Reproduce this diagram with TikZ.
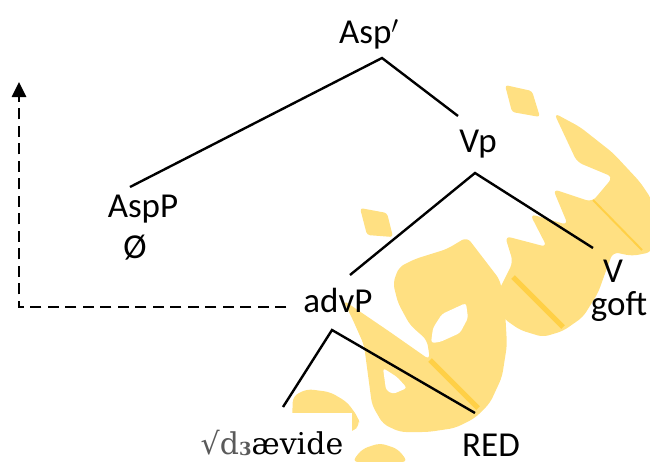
\documentclass[tikz,border=0pt]{standalone}
\usepackage{fontspec}
\setmainfont{Carlito}
\newfontfamily\rootfont{DejaVu Serif}
\usetikzlibrary{arrows.meta}
\definecolor{wmark}{RGB}{255,224,130}
\definecolor{wstripe}{RGB}{255,208,70}
\definecolor{rootgray}{RGB}{90,90,90}
\tikzset{
  lbl/.style={inner sep=0pt, anchor=base, font=\fontsize{35}{40}\selectfont},
  branch/.style={line width=2.4pt},
  movearrow/.style={line width=2.6pt, dash pattern=on 11pt off 6.5pt,
    -{Triangle[length=15pt,width=14pt]}},
  blob/.style={fill=wmark, rounded corners=6pt},
  hole/.style={fill=white, rounded corners=3pt},
  stripe/.style={draw=wstripe},
}
\begin{document}
\begin{tikzpicture}[x=1pt,y=-1pt]
\useasboundingbox (0,0) rectangle (650,461);

% background watermark
\fill[blob] (554,113) -- (580,127) -- (613,153) -- (640,182) -- (652,200) -- (652,252)
  -- (632,256) -- (613,252) -- (607,268) -- (598,293) -- (583,317) -- (563,331)
  -- (543,337) -- (520,330) -- (503,318) -- (498,292) -- (513,262) -- (505,236)
  -- (547,247) -- (530,214) -- (568,225) -- (553,189) -- (592,202) -- (613,177)
  -- (577,162) -- cycle;
\fill[blob] (467,237) -- (500,280) -- (505,310) -- (507,345) -- (502,377) -- (490,403)
  -- (475,418) -- (455,428) -- (428,432) -- (400,432) -- (383,424) -- (372,405)
  -- (368,375) -- (364,345) -- (352,318) -- (343,300) -- (390,332) -- (430,360)
  -- (427,340) -- (410,325) -- (398,303) -- (393,283) -- (399,267) -- (415,259)
  -- (447,249) -- cycle;
\fill[blob] (293,396) -- (307,389) -- (330,392) -- (347,402) -- (358,417) -- (360,425)
  -- (352,432) -- (300,440) -- (292,420) -- cycle;
\fill[blob] (352,462) -- (362,449) -- (380,443) -- (398,449) -- (408,462) -- cycle;
\fill[blob, rounded corners=3pt] (360,208) -- (387,213) -- (393,237) -- (367,235) -- cycle;
\fill[blob, rounded corners=3pt] (505,85) -- (532,91) -- (540,117) -- (512,112) -- cycle;
\fill[hole] (466,303) -- (468,318) -- (460,333) -- (440,342) -- (431,343) -- (433,328)
  -- (442,314) -- cycle;
\fill[hole] (383,368) -- (386,390) -- (393,394) -- (407,388) -- (397,377) -- cycle;
\draw[stripe, line width=2pt] (593,200) -- (642,250);
\draw[stripe, line width=5pt] (513,277) -- (563,327);
\draw[stripe, line width=5pt] (430,360) -- (478,408);
\fill[white] (195,413) rectangle (352,461);

% labels
\node[lbl] (aspbar) at (369,43) {Asp$'$};
\node[lbl] (aspp) at (143,217) {AspP};
\node[lbl] (null) at (135,258) {Ø};
\node[lbl] (vp) at (478,152) {Vp};
\node[lbl] (advp) at (338,312) {advP};
\node[lbl] (v) at (613,282) {V};
\node[lbl] (goft) at (619,315) {goft};
\node[lbl] (red) at (491,456) {RED};
\node[inner sep=0pt, anchor=base] (root) at (272,454)
  {\rootfont\fontsize{30}{34}\selectfont{\color{rootgray}√d\raisebox{-1pt}{\fontsize{18}{18}\selectfont\bfseries 3}}ævide};

% branch points and leaf ends
\coordinate (aspbar-b) at (382,58);
\coordinate (aspp-t) at (130,187);
\coordinate (vp-t) at (458,116);
\coordinate (vp-b) at (475,173);
\coordinate (advp-t) at (350,275);
\coordinate (v-t) at (593,248);
\coordinate (advp-b) at (332,330);
\coordinate (root-t) at (283,407);
\coordinate (red-t) at (475,413);
\coordinate (movetop) at (19,82);

% branches
\draw[branch] (aspp-t) -- (aspbar-b) -- (vp-t);
\draw[branch] (advp-t) -- (vp-b) -- (v-t);
\draw[branch] (root-t) -- (advp-b) -- (red-t);

% movement arrow
\draw[movearrow] ([xshift=-17pt,yshift=5pt]advp.base west) -| (movetop);
\end{tikzpicture}
\end{document}
